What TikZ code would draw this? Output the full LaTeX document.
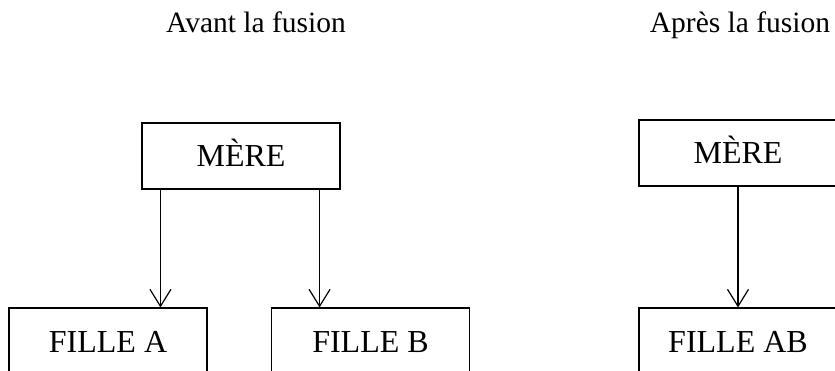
\documentclass[tikz,border=0pt]{standalone}
\usepackage{fontspec}
\setmainfont{Liberation Serif}
\usetikzlibrary{arrows.meta,calc}
\tikzset{
  box/.style={draw=black, line width=1.1pt, minimum width=198pt, minimum height=66pt,
    inner sep=0pt, text height=22pt, text depth=0pt, font=\fontsize{32}{38}\selectfont},
  title/.style={anchor=base, inner sep=0pt, font=\fontsize{29.5}{35}\selectfont},
  arr/.style={line width=1.2pt, -{Straight Barb[length=17pt,width=21pt,line width=1.2pt]}}
}
\begin{document}
\begin{tikzpicture}[x=1pt,y=-1pt]
\useasboundingbox (0,0) rectangle (835,371);
\clip (0,0) rectangle (835,371);
\fill[white] (0,0) rectangle (835,371);
\node[title] (tA) at (256,33) {Avant la fusion};
\node[title] (tB) at (740,33) {Après la fusion};
\node[box] (mereL) at (241,156) {MÈRE};
\node[box] (filleA) at (108,341) {FILLE A};
\node[box] (filleB) at (370.5,341) {FILLE B};
\node[box] (mereR) at (738,153) {MÈRE};
\node[box] (filleAB) at (738,341) {FILLE AB};
\draw[arr] ([xshift=19pt]mereL.south west) -- ([xshift=19pt]mereL.south west |- filleA.north);
\draw[arr] ([xshift=-21pt]mereL.south east) -- ([xshift=-21pt]mereL.south east |- filleB.north);
\draw[arr] (mereR.south) -- (filleAB.north);
\end{tikzpicture}
\end{document}
